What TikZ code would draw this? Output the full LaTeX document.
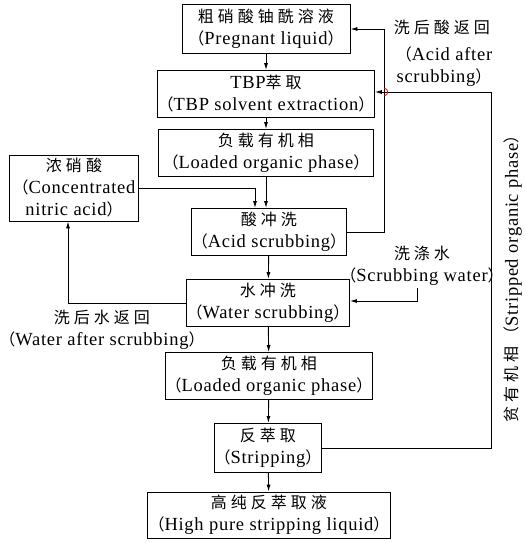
\documentclass[tikz,border=0pt]{standalone}
\usepackage{fontspec}
\setmainfont[LetterSpace=4]{Liberation Serif}
\newfontfamily\cjk[LetterSpace=25,Scale=0.865]{Noto Sans CJK SC}
\newcommand{\zh}[1]{{\cjk #1}}
\usetikzlibrary{arrows.meta}

\begin{document}
\begin{tikzpicture}[x=1pt,y=-1pt,line width=0.9pt,
  box/.style={draw,align=center,inner sep=0pt,font=\fontsize{18.5}{22}\selectfont},
  lbl/.style={align=center,inner sep=0pt,font=\fontsize{18.5}{22}\selectfont},
  flow/.style={-{Latex[length=7pt,width=4pt]}}]
\useasboundingbox (0,0) rectangle (525,543);
% main column
\node[box,minimum width=168pt,minimum height=49pt] (b1) at (266,29) {\zh{粗硝酸铀酰溶液}\\\zh{（}Pregnant liquid\zh{）}};
\node[box,minimum width=215pt,minimum height=47pt] (b2) at (266,94) {TBP\zh{萃取}\\\zh{（}TBP solvent extraction\zh{）}};
\node[box,minimum width=215pt,minimum height=47pt] (b3) at (266,153) {\zh{负载有机相}\\\zh{（}Loaded organic phase\zh{）}};
\node[box,minimum width=148pt,minimum height=47pt] (b5) at (269,232) {\zh{酸冲洗}\\\zh{（}Acid scrubbing\zh{）}};
\node[box,minimum width=156pt,minimum height=47pt] (b6) at (268,303) {\zh{水冲洗}\\\zh{（}Water scrubbing\zh{）}};
\node[box,minimum width=201pt,minimum height=47pt] (b7) at (269,376) {\zh{负载有机相}\\\zh{（}Loaded organic phase\zh{）}};
\node[box,minimum width=104pt,minimum height=49pt] (b8) at (268,448) {\zh{反萃取}\\\zh{（}Stripping\zh{）}};
\node[box,minimum width=243pt,minimum height=46pt] (b9) at (269,515) {\zh{高纯反萃取液}\\\zh{（}High pure stripping liquid\zh{）}};
% side box
\node[box,minimum width=129pt,minimum height=66pt] (b4) at (74,188) {\zh{浓硝酸}\\\zh{（}Concentrated\\nitric acid\zh{）}};
% labels
\node[lbl] (acid1) at (442,27) {\zh{洗后酸返回}};
\node[lbl] (acid2) at (444,67) {\zh{（}Acid after\\scrubbing\zh{）}};
\node[lbl] (water) at (422,266) {\zh{洗涤水}\\\zh{（}Scrubbing water\zh{）}};
\node[lbl] (wback) at (102,330) {\zh{洗后水返回}\\\zh{（}Water after scrubbing\zh{）}};
\node[lbl,rotate=90] (spo) at (513,275) {\zh{贫有机相（}Stripped organic phase\zh{）}};
% arrows down the column
\draw[flow] (b1) -- (b2);
\draw[flow] (b2) -- (b3);
\draw[flow] (b3.south) -- (b3.south |- b5.north);
\draw[flow] (b5) -- (b6);
\draw[flow] (b6) -- (b7);
\draw[flow] (b7) -- (b8);
\draw[flow] (b8) -- (b9);
% returns and feeds
\draw[flow] (b4.east) -| ([xshift=-14pt]b5.north);
\draw[flow] (b6.west) -| (b4.south -| 68,0);
\draw[flow] (b5.east) -| (384,29) -- (b1.east);
\draw[flow] (417,288) |- ([yshift=2pt]b6.east);
\draw[flow] (b8.east) -| (491,92) -- (b2.east |- 0,92);
\draw[red,line width=0.8pt] (384,88) .. controls (389,89) and (389,95) .. (384,96);
\end{tikzpicture}
\end{document}
